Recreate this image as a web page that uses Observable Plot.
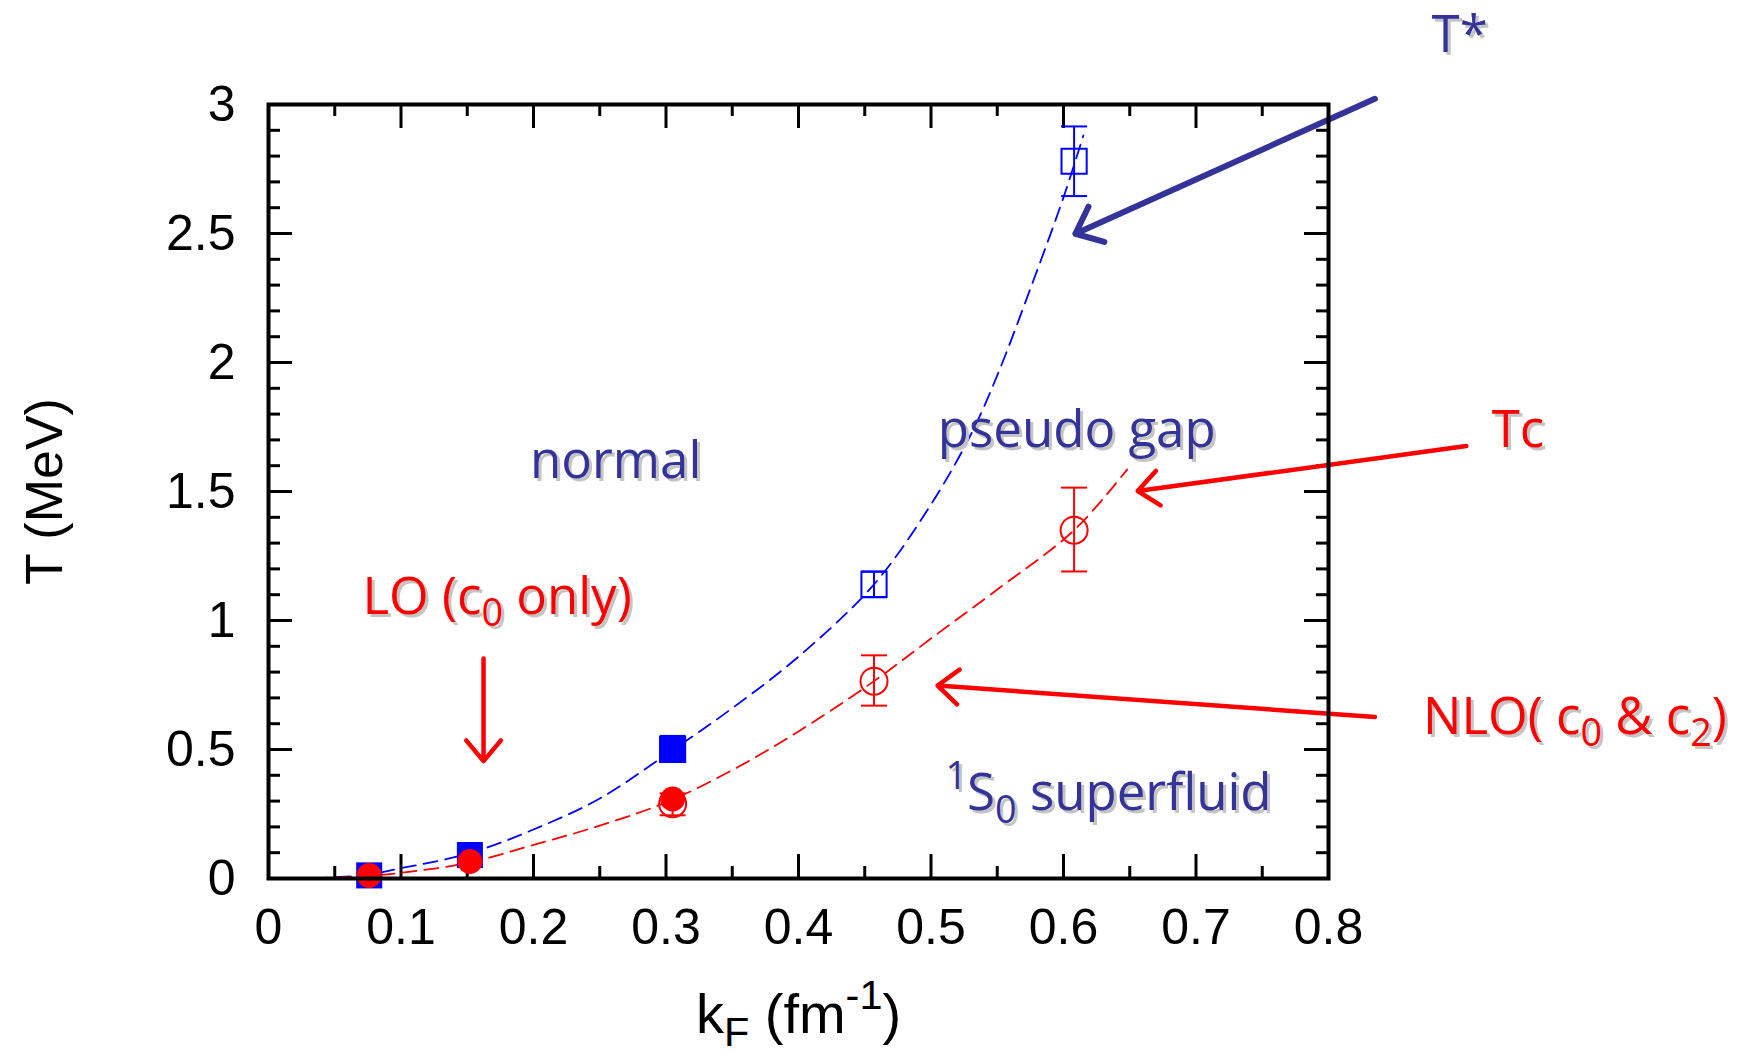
<!DOCTYPE html>
<html>
<head>
<meta charset="utf-8">
<script src="https://cdn.jsdelivr.net/npm/d3@7"></script>
<script src="https://cdn.jsdelivr.net/npm/@observablehq/plot@0.6"></script>
<style>
  html, body { margin: 0; padding: 0; background: #ffffff; }
  #chart svg { display: block; }
</style>
</head>
<body>
<div id="chart"></div>
<script>
// ---------------- data ----------------
const xTickValues = [0, 0.1, 0.2, 0.3, 0.4, 0.5, 0.6, 0.7, 0.8];
const xMinorValues = [0.05, 0.15, 0.25, 0.35, 0.45, 0.55, 0.65, 0.75];
const yTickValues = [0, 0.5, 1, 1.5, 2, 2.5, 3];
const yMinorValues = [0.1, 0.2, 0.3, 0.4, 0.6, 0.7, 0.8, 0.9, 1.1, 1.2, 1.3, 1.4,
                      1.6, 1.7, 1.8, 1.9, 2.1, 2.2, 2.3, 2.4, 2.6, 2.7, 2.8, 2.9];
const xTickLabels = ["0", "0.1", "0.2", "0.3", "0.4", "0.5", "0.6", "0.7", "0.8"];
const yTickLabels = ["0", "0.5", "1", "1.5", "2", "2.5", "3"];

// T* (pseudo-gap temperature), LO filled squares
const starLOk = [0.076, 0.152, 0.305];
const starLOt = [0.012, 0.091, 0.506];
// T* NLO open squares with error bars
const starNLOk = [0.305, 0.457, 0.608];
const starNLOt = [0.50, 1.14, 2.78];
const starNLOlo = [0.49, 1.09, 2.645];
const starNLOhi = [0.52, 1.19, 2.915];

// Tc, LO filled circles
const tcLOk = [0.076, 0.152, 0.305];
const tcLOt = [0.012, 0.066, 0.308];
// Tc NLO open circles with error bars
const tcNLOk = [0.305, 0.457, 0.608];
const tcNLOt = [0.29, 0.765, 1.35];
const tcNLOlo = [0.245, 0.67, 1.19];
const tcNLOhi = [0.33, 0.865, 1.515];

// dashed fit curves
const starCurveK = [0.035, 0.075, 0.1, 0.15, 0.2, 0.25, 0.3, 0.35, 0.4, 0.457, 0.5, 0.53, 0.55, 0.576, 0.6, 0.615];
const starCurveT = [0.0, 0.015, 0.04, 0.095, 0.19, 0.31, 0.48, 0.66, 0.86, 1.14, 1.45, 1.72, 1.95, 2.3, 2.64, 2.88];
const tcCurveK = [0.035, 0.075, 0.1, 0.15, 0.2, 0.25, 0.3, 0.35, 0.4, 0.457, 0.5, 0.55, 0.608, 0.648];
const tcCurveT = [0.0, 0.01, 0.022, 0.06, 0.13, 0.205, 0.295, 0.42, 0.57, 0.765, 0.93, 1.12, 1.35, 1.585];

// annotations (data coordinates: text centre x, baseline y)
const noteText = ["normal", "pseudo gap", "LO (c_{0} only)", "^{1}S_{0} superfluid", "T*", "Tc", "NLO( c_{0} & c_{2})"];
const noteK = [0.262, 0.610, 0.1725, 0.634, 0.899, 0.943, 0.986];
const noteT = [1.552, 1.671, 1.027, 0.264, 3.202, 1.671, 0.562];
const noteGroup = ["phase", "phase", "order", "phase", "phase", "order", "order"];

// annotation arrows (data coordinates)
const arrowK1 = [0.1623, 0.904, 0.835];
const arrowT1 = [0.853, 1.676, 0.626];
const arrowK2 = [0.1623, 0.656, 0.505];
const arrowT2 = [0.455, 1.502, 0.748];
const arrowGroup = ["order", "order", "order"];
const starArrowK1 = [0.835];
const starArrowT1 = [3.022];
const starArrowK2 = [0.609];
const starArrowT2 = [2.499];

// ---------------- tables built from the arrays ----------------
const zip = (ks, ts) => ks.map((k, i) => ({k, t: ts[i]}));
const starLO = zip(starLOk, starLOt);
const tcLO = zip(tcLOk, tcLOt);
const starNLO = starNLOk.map((k, i) => ({k, t: starNLOt[i], lo: starNLOlo[i], hi: starNLOhi[i]}));
const tcNLO = tcNLOk.map((k, i) => ({k, t: tcNLOt[i], lo: tcNLOlo[i], hi: tcNLOhi[i]}));
const starCurve = zip(starCurveK, starCurveT);
const tcCurve = zip(tcCurveK, tcCurveT);
const notes = noteText.map((text, i) => ({text, k: noteK[i], t: noteT[i], g: noteGroup[i]}));
const arrows = arrowK1.map((k1, i) => ({k1, t1: arrowT1[i], k2: arrowK2[i], t2: arrowT2[i], g: arrowGroup[i]}));
const starArrows = starArrowK1.map((k1, i) => ({k1, t1: starArrowT1[i], k2: starArrowK2[i], t2: starArrowT2[i]}));

// ---------------- styles ----------------
const W = 1750, H = 1054;
const mL = 268, mR = 422, mT = 104, mB = 176;
const FW = W - mL - mR, FH = H - mT - mB;
const BLUE = "#0000ff", RED = "#ff0000", NAVY = "#333399";
const noteColor = g => g === "phase" ? NAVY : RED;
const axisFont = "Liberation Sans, Arial, Helvetica, sans-serif";
const noteFont = "Comic Sans MS, Open Sans, sans-serif";
const MAJ = 24, MIN = 12;

const capSymbol = { draw(ctx, size) { const w = Math.sqrt(size / Math.PI); ctx.moveTo(-w, 0); ctx.lineTo(w, 0); } };

const tickRulesY = (vals, len) => [
  Plot.ruleY(vals, {y: d => d, insetRight: FW - len, stroke: "black", strokeWidth: 3}),
  Plot.ruleY(vals, {y: d => d, insetLeft: FW - len, stroke: "black", strokeWidth: 3})
];
const tickRulesX = (vals, len) => [
  Plot.ruleX(vals, {x: d => d, insetTop: FH - len, stroke: "black", strokeWidth: 3}),
  Plot.ruleX(vals, {x: d => d, insetBottom: FH - len, stroke: "black", strokeWidth: 3})
];

const chart = Plot.plot({
  width: W, height: H,
  marginLeft: mL, marginRight: mR, marginTop: mT, marginBottom: mB,
  style: {background: "#ffffff", color: "black", overflow: "visible"},
  x: {domain: [0, 0.8]},
  y: {domain: [0, 3]},
  marks: [
    ...tickRulesY(yTickValues, MAJ),
    ...tickRulesY(yMinorValues, MIN),
    ...tickRulesX(xTickValues, MAJ),
    ...tickRulesX(xMinorValues, MIN),
    Plot.axisX(xTickValues, {tickSize: 0, tickPadding: 30, fontSize: 50, fontFamily: axisFont,
      tickFormat: (d, i) => xTickLabels[i], label: null}),
    Plot.axisY(yTickValues, {tickSize: 0, tickPadding: 33, fontSize: 50, fontFamily: axisFont,
      tickFormat: (d, i) => yTickLabels[i], label: null}),
    // axis titles
    Plot.text(["k_{F} (fm^{-1})"], {frameAnchor: "bottom", text: d => d, dy: 154, lineAnchor: "bottom",
      fontSize: 56, fontFamily: axisFont, fill: "black"}),
    Plot.text(["T (MeV)"], {frameAnchor: "left", text: d => d, dx: -223, rotate: -90, lineAnchor: "middle",
      textAnchor: "middle", fontSize: 52, fontFamily: axisFont, fill: "black"}),
    // fit curves
    Plot.line(starCurve, {x: "k", y: "t", stroke: BLUE, strokeWidth: 1.8, strokeDasharray: "14,8", curve: "catmull-rom"}),
    Plot.line(tcCurve, {x: "k", y: "t", stroke: RED, strokeWidth: 1.8, strokeDasharray: "14,8", curve: "catmull-rom"}),
    // error bars
    Plot.ruleX(starNLO, {x: "k", y1: "lo", y2: "hi", stroke: BLUE, strokeWidth: 2}),
    Plot.dot(starNLO, {x: "k", y: "lo", symbol: capSymbol, r: 13, stroke: BLUE, strokeWidth: 2, fill: "none"}),
    Plot.dot(starNLO, {x: "k", y: "hi", symbol: capSymbol, r: 13, stroke: BLUE, strokeWidth: 2, fill: "none"}),
    Plot.ruleX(tcNLO, {x: "k", y1: "lo", y2: "hi", stroke: RED, strokeWidth: 2}),
    Plot.dot(tcNLO, {x: "k", y: "lo", symbol: capSymbol, r: 13, stroke: RED, strokeWidth: 2, fill: "none"}),
    Plot.dot(tcNLO, {x: "k", y: "hi", symbol: capSymbol, r: 13, stroke: RED, strokeWidth: 2, fill: "none"}),
    // markers
    Plot.dot(starNLO, {x: "k", y: "t", symbol: "square", r: 14.2, stroke: BLUE, strokeWidth: 2, fill: "none"}),
    Plot.dot(starLO, {x: "k", y: "t", symbol: "square", r: 14.7, fill: BLUE, stroke: "none"}),
    Plot.dot(tcNLO, {x: "k", y: "t", r: 13.5, stroke: RED, strokeWidth: 2, fill: "none"}),
    Plot.dot(tcLO, {x: "k", y: "t", r: 12.5, fill: RED, stroke: "none"}),
    // arrows
    Plot.arrow(arrows, {x1: "k1", y1: "t1", x2: "k2", y2: "t2", stroke: d => noteColor(d.g), strokeWidth: 4.5,
      headLength: 9, headAngle: 80, strokeLinecap: "round"}),
    Plot.arrow(starArrows, {x1: "k1", y1: "t1", x2: "k2", y2: "t2", stroke: NAVY, strokeWidth: 6,
      headLength: 7.5, headAngle: 80, strokeLinecap: "round"}),
    // annotation text: shadow then text
    Plot.text(notes, {x: "k", y: "t", text: "text", dx: 3, dy: 3, fill: "#c4c4c4", fontSize: 51, fontWeight: 500,
      fontFamily: noteFont, textAnchor: "middle", lineAnchor: "bottom"}),
    Plot.text(notes, {x: "k", y: "t", text: "text", fill: d => noteColor(d.g), fontSize: 51, fontWeight: 500,
      fontFamily: noteFont, textAnchor: "middle", lineAnchor: "bottom"}),
    Plot.frame({stroke: "black", strokeWidth: 4})
  ]
});

document.getElementById("chart").appendChild(chart);

// turn _{..} / ^{..} markup into real subscript / superscript tspans
function richify(svg) {
  svg.querySelectorAll("text").forEach(t => {
    const s = t.textContent;
    if (!/[_^]\{/.test(s)) return;
    const fs = parseFloat(getComputedStyle(t).fontSize) || 50;
    const parts = [];
    const re = /([_^])\{([^}]*)\}/g;
    let last = 0, m;
    while ((m = re.exec(s))) {
      if (m.index > last) parts.push({s: s.slice(last, m.index), k: 0});
      parts.push({s: m[2], k: m[1] === "_" ? 1 : -1});
      last = re.lastIndex;
    }
    if (last < s.length) parts.push({s: s.slice(last), k: 0});
    while (t.firstChild) t.removeChild(t.firstChild);
    let cur = 0;
    for (const p of parts) {
      const ts = document.createElementNS("http://www.w3.org/2000/svg", "tspan");
      const shift = p.k === 1 ? 0.24 * fs : p.k === -1 ? -0.42 * fs : 0;
      ts.setAttribute("dy", String(shift - cur));
      cur = shift;
      if (p.k) ts.setAttribute("font-size", String(0.74 * fs));
      ts.textContent = p.s;
      t.appendChild(ts);
    }
  });
}
richify(chart);
</script>
</body>
</html>
